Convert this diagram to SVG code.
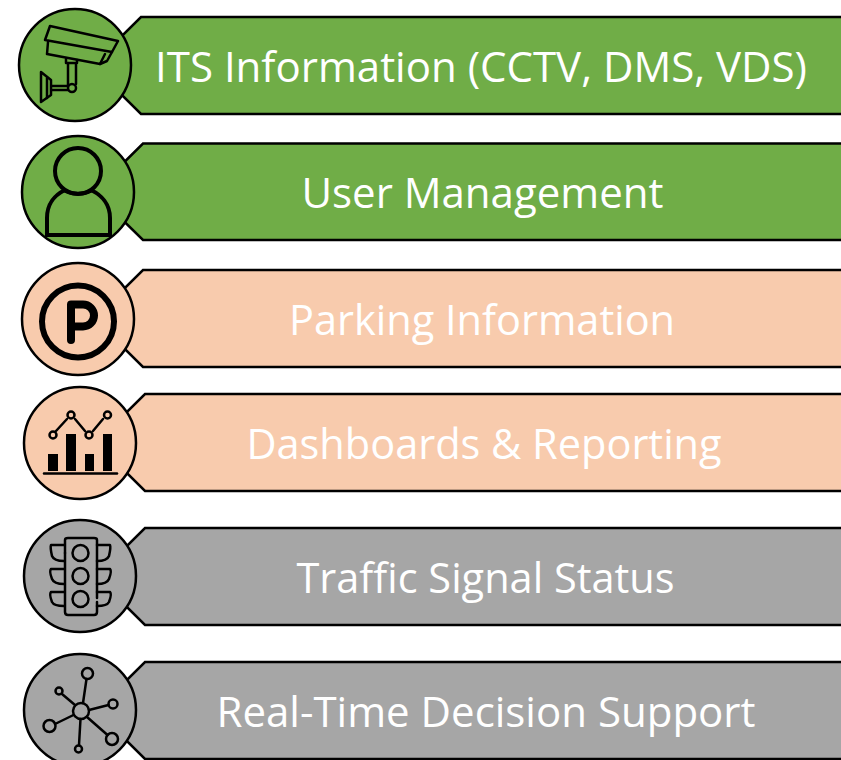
<svg xmlns="http://www.w3.org/2000/svg" width="841" height="760" viewBox="0 0 841 760">
<style>
.b{stroke:#000;stroke-width:2.5}
.c{stroke:#000;stroke-width:2.5}
.g{fill:#70ad47}.o{fill:#f8cbad}.y{fill:#a6a6a6}
.t{font-family:"Open Sans","Noto Sans",sans-serif;font-size:42px;fill:#fff;text-anchor:middle}
.u{font-size:41.500px}
.i{fill:none;stroke:#000;stroke-width:2.5;stroke-linejoin:round;stroke-linecap:round}
.s{stroke:#000;stroke-width:4;fill:none}
.k{fill:#000;stroke:none}
</style>
<rect width="841" height="760" fill="#fff"/>
<g id="n1">
<path class="b g" d="M843 17H141L92 65.500L141 114H843Z"/>
<circle class="c g" cx="75" cy="65" r="56"/>
<g class="i">
<path d="M50 26L118 41L112 52L45 40Z"/>
<path d="M48 42L47 54L100 64L105 54"/>
<path d="M100 64L107 61L112 52"/>
<path d="M66 59V63H77V60M68 63V85M76 63V84"/>
<path d="M68 86H52M68 90H52"/>
<circle cx="72" cy="88" r="4"/>
<path d="M41 72L51 80V95L41 102Z"/>
<path d="M47 78V98"/>
</g>
<text class="t" x="481" y="82">ITS Information (CCTV, DMS, VDS)</text>
</g>
<g id="n2">
<path class="b g" d="M843 143.500H143L94 192L143 240H843Z"/>
<circle class="c g" cx="78" cy="192" r="56"/>
<circle class="s" cx="78" cy="171" r="23"/>
<path class="s" d="M47 235V218C47 204 55 195 64 190.500Q78 197 92 190.500C101 195 110 204 110 218V235Z"/>
<text class="t" x="482.500" y="208">User Management</text>
</g>
<g id="n3">
<path class="b o" d="M843 270H143L94 318.500L143 367H843Z"/>
<circle class="c o" cx="78" cy="319" r="56"/>
<circle cx="78" cy="321.500" r="36" fill="none" stroke="#000" stroke-width="6"/>
<path fill="none" stroke="#000" stroke-width="8" stroke-linejoin="round" stroke-linecap="round" d="M71 340V304.500H83A11 11 0 0 1 83 326.500H71"/>
<text class="t u" x="482" y="335">Parking Information</text>
</g>
<g id="n4">
<path class="b o" d="M843 394H145L96 442.500L145 491H843Z"/>
<circle class="c o" cx="80" cy="443" r="56"/>
<path class="k" d="M48 454H58V471H48ZM66 434H76V471H66ZM85 454H94V471H85ZM103 434H112V471H103Z"/>
<path class="i" d="M44 473.500H117"/>
<path class="i" d="M56 431L67 419M75 419L85 431M93 431L103 419"/>
<g class="i"><circle cx="53" cy="435" r="3.500"/><circle cx="71" cy="415" r="3.500"/><circle cx="89" cy="435" r="3.500"/><circle cx="107.500" cy="415" r="3.500"/></g>
<text class="t u" x="484" y="459">Dashboards &amp; Reporting</text>
</g>
<g id="n5">
<path class="b y" d="M843 528H145L96 576.500L145 625H843Z"/>
<circle class="c y" cx="80" cy="576" r="56"/>
<g class="i">
<path d="M65 553V540Q65 538 68 538H94Q97 538 97 540V598"/>
<path d="M65 553V612Q65 615 68 615H94Q97 615 97 612V602"/>
<circle cx="80.500" cy="553" r="8"/><circle cx="80.500" cy="576" r="8"/><circle cx="80.500" cy="599" r="8"/>
<path d="M64 545H51Q50 547 52 556Q54 561 64 561M64 569H51Q49 571 52 579Q54 584 64 584M64 592H51Q49 594 52 602Q54 606 64 606"/>
<path d="M97 545H110Q111 547 109 556Q107 561 97 561M97 569H110Q112 571 109 579Q107 584 97 584M97 592H110Q112 594 109 602Q107 606 97 606"/>
</g>
<text class="t u" x="485.500" y="593">Traffic Signal Status</text>
</g>
<g id="n6">
<path class="b y" d="M843 662H145L96 710.500L145 759H843Z"/>
<circle class="c y" cx="80" cy="710" r="56"/>
<g class="i">
<circle cx="81" cy="711" r="8"/>
<circle cx="87.500" cy="673.500" r="5.500"/><circle cx="59" cy="691" r="3.500"/><circle cx="113" cy="704" r="4.500"/><circle cx="49.500" cy="726" r="6"/><circle cx="112" cy="739" r="6"/><circle cx="78.500" cy="749" r="3.500"/>
<path d="M83 703L86.500 679M75 705L62 694M89 710L108.500 705M73.500 715L55 724M87 717L107.500 735M80.500 719L79 745"/>
</g>
<text class="t" x="486" y="727">Real-Time Decision Support</text>
</g>
</svg>
